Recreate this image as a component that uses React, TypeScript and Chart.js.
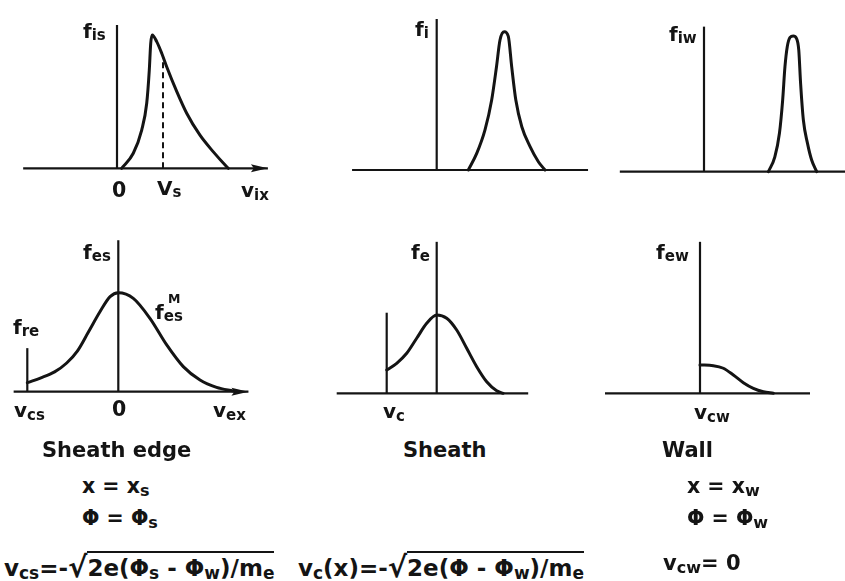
import React, { useEffect, useRef } from 'react';
import { Chart, registerables } from 'chart.js';

Chart.register(...registerables);

const INK = '#141414';

// ---- Data (velocity in panel units, f normalised) ----
// Panel 1: ion distribution at sheath edge, f_is(v_ix)
const fisV = [0.1, 0.354, 0.537, 0.646, 0.702, 0.733, 0.767, 0.863, 0.972, 1.08, 1.3, 1.515, 1.8, 2.09, 2.385, 2.42];
const fisF = [0, 0.113, 0.287, 0.488, 0.737, 0.938, 1.0, 0.95, 0.863, 0.762, 0.575, 0.413, 0.25, 0.125, 0.012, 0];
const vsMark = [1.0, 0.84]; // V_s position, height of dashed line

// Panel 2: ion distribution in the sheath, f_i
const fiV = [0.687, 0.87, 1.05, 1.195, 1.3, 1.376, 1.47, 1.557, 1.63, 1.72, 1.85, 2.03, 2.21, 2.355];
const fiF = [0, 0.12, 0.29, 0.506, 0.747, 0.94, 1.0, 0.966, 0.747, 0.506, 0.313, 0.169, 0.06, 0];

// Panel 3: ion distribution at the wall, f_iw
const fiwV = [1.4, 1.54, 1.64, 1.71, 1.76, 1.81, 1.87, 1.94, 2.01, 2.06, 2.1, 2.16, 2.25, 2.34, 2.45];
const fiwF = [0, 0.11, 0.283, 0.528, 0.774, 0.921, 0.99, 1.0, 0.983, 0.897, 0.651, 0.381, 0.209, 0.086, 0];

// Panel 4: electron distribution at sheath edge, f_es (cut at v_cs = -1)
const fesV = [-1.0, -0.85, -0.7, -0.567, -0.45, -0.33, -0.2, -0.09, 0, 0.165, 0.348, 0.532, 0.714, 0.898, 1.08, 1.264, 1.3];
const fesF = [0.091, 0.14, 0.2, 0.29, 0.41, 0.6, 0.81, 0.96, 1.0, 0.943, 0.741, 0.472, 0.253, 0.118, 0.044, 0.007, 0];
const freCut = [-1.0, 0.44]; // v_cs, height of f_re marker

// Panel 5: electron distribution in the sheath, f_e (cut at v_c = -1)
const feV = [-1.0, -0.8, -0.6, -0.4, -0.2, 0, 0.2, 0.4, 0.6, 0.8, 1.0, 1.2, 1.33];
const feF = [0.235, 0.303, 0.404, 0.556, 0.707, 0.791, 0.758, 0.639, 0.455, 0.269, 0.117, 0.026, 0];
const vcCut = [-1.0, 0.814];

// Panel 6: electron distribution at the wall, f_ew (cut at v_cw = 0)
const fewV = [0, 0.267, 0.467, 0.667, 0.867, 1.067, 1.267, 1.467];
const fewF = [0.286, 0.279, 0.253, 0.185, 0.107, 0.05, 0.016, 0];

// ---- helpers ----
const pts = (xs: number[], ys: number[]) => xs.map((x, i) => ({ x, y: ys[i] }));

const seg = (xs: number[], ys: number[], w = 2.2, extra: any = {}) => ({
  data: pts(xs, ys),
  showLine: true,
  borderColor: INK,
  backgroundColor: INK,
  borderWidth: w,
  pointRadius: 0,
  fill: false,
  ...extra,
});
const curve = (xs: number[], ys: number[]) =>
  seg(xs, ys, 3, { cubicInterpolationMode: 'monotone', borderCapStyle: 'round', borderJoinStyle: 'round' });

const arrowPlugin = {
  id: 'arrowHead',
  afterDatasetsDraw(chart: any) {
    const ctx = chart.ctx;
    chart.data.datasets.forEach((ds: any, i: number) => {
      if (!ds.arrow) return;
      const els = chart.getDatasetMeta(i).data;
      const a = els[els.length - 2];
      const b = els[els.length - 1];
      const ang = Math.atan2(b.y - a.y, b.x - a.x);
      ctx.save();
      ctx.translate(b.x, b.y);
      ctx.rotate(ang);
      ctx.beginPath();
      ctx.moveTo(0, 0);
      ctx.lineTo(-17, -4);
      ctx.lineTo(-14, 0);
      ctx.lineTo(-17, 4);
      ctx.closePath();
      ctx.fillStyle = INK;
      ctx.fill();
      ctx.restore();
    });
  },
};

type PanelProps = { rect: number[]; origin: number[]; datasets: any[] };

function Panel({ rect, origin, datasets }: PanelProps) {
  const ref = useRef<HTMLCanvasElement>(null);
  const [L, T, W, H] = rect;
  useEffect(() => {
    const [X0, U, Y0, Fu] = origin;
    const chart = new Chart(ref.current as HTMLCanvasElement, {
      type: 'scatter',
      data: { datasets },
      options: {
        animation: false,
        responsive: false,
        maintainAspectRatio: false,
        events: [],
        layout: { padding: 0 },
        plugins: { legend: { display: false }, tooltip: { enabled: false } },
        scales: {
          x: { type: 'linear', display: false, min: (L - X0) / U, max: (L + W - X0) / U },
          y: { type: 'linear', display: false, min: (Y0 - (T + H)) / Fu, max: (Y0 - T) / Fu },
        },
      } as any,
      plugins: [arrowPlugin as any],
    });
    return () => chart.destroy();
  }, []);
  return (
    <canvas
      ref={ref}
      width={W}
      height={H}
      style={{ position: 'absolute', left: L, top: T, width: W, height: H }}
    />
  );
}

const FONT = '"DejaVu Sans", sans-serif';

function Txt({ x, y, size = 20, children }: any) {
  return (
    <div
      style={{
        position: 'absolute',
        left: x,
        top: y - 0.846 * size,
        fontSize: size,
        lineHeight: `${size}px`,
        fontFamily: FONT,
        fontWeight: 'bold',
        whiteSpace: 'nowrap',
        color: INK,
      }}
    >
      {children}
    </div>
  );
}

function Sub({ children, size = 15, dy = 2 }: any) {
  return (
    <span style={{ fontSize: size, lineHeight: 1, position: 'relative', top: dy }}>{children}</span>
  );
}

function Root() {
  return <span style={{ fontSize: 29, lineHeight: 1, position: 'relative', top: 1 }}>√</span>;
}

export default function App() {
  const p1 = [
    seg([-2.04, 3.28], [0, 0], 2.2, { arrow: true }),
    seg([0, 0], [0, 1.075], 2.2),
    curve(fisV, fisF),
    seg([vsMark[0], vsMark[0]], [0, vsMark[1]], 2, { borderDash: [6, 4] }),
  ];
  const p2 = [seg([-1.84, 3.29], [0, 0]), seg([0, 0], [0, 1.092]), curve(fiV, fiF)];
  const p3 = [seg([-1.83, 3.2], [0, 0]), seg([0, 0], [0, 1.069]), curve(fiwV, fiwF)];
  const p4 = [
    seg([-1.15, 1.43], [0, 0], 2.2, { arrow: true }),
    seg([0, 0], [0, 1.53]),
    seg([freCut[0], freCut[0]], [0, freCut[1]]),
    curve(fesV, fesF),
  ];
  const p5 = [
    seg([-2.0, 1.83], [0, 0]),
    seg([0, 0], [0, 1.53]),
    seg([vcCut[0], vcCut[0]], [0, vcCut[1]]),
    curve(feV, feF),
  ];
  const p6 = [seg([-1.9, 2.2], [0, 0]), seg([0, 0], [0, 1.53]), curve(fewV, fewF)];

  const over = { borderTop: `2px solid ${INK}`, paddingTop: 2 };
  const FS = 23;
  const SS = 17;

  return (
    <div
      style={{
        position: 'fixed',
        left: 0,
        top: 0,
        width: 845,
        height: 581,
        background: '#ffffff',
        overflow: 'hidden',
      }}
    >
      <Panel rect={[0, 0, 290, 215]} origin={[117, 46, 168.3, 133.3]} datasets={p1} />
      <Panel rect={[290, 0, 300, 215]} origin={[436.7, 46, 170, 138.3]} datasets={p2} />
      <Panel rect={[590, 0, 255, 215]} origin={[704, 46, 171.7, 135.7]} datasets={p3} />
      <Panel rect={[0, 225, 290, 200]} origin={[118.3, 91, 391.7, 99]} datasets={p4} />
      <Panel rect={[300, 225, 270, 200]} origin={[436.7, 50, 393.3, 99]} datasets={p5} />
      <Panel rect={[590, 225, 255, 200]} origin={[700, 50, 393.3, 99]} datasets={p6} />

      {/* panel labels */}
      <Txt x={83} y={38}>f<Sub>is</Sub></Txt>
      <Txt x={112} y={197} size={20.5}>0</Txt>
      <Txt x={157} y={195}>V<Sub>s</Sub></Txt>
      <Txt x={241} y={197}>v<Sub dy={3}>ix</Sub></Txt>

      <Txt x={415} y={36}>f<Sub>i</Sub></Txt>
      <Txt x={669} y={41}>f<Sub>iw</Sub></Txt>

      <Txt x={83} y={259}>f<Sub>es</Sub></Txt>
      <Txt x={155} y={319}>f<Sub>es</Sub></Txt>
      <Txt x={168} y={304} size={12.5}>M</Txt>
      <Txt x={13} y={334}>f<Sub>re</Sub></Txt>
      <Txt x={14} y={417}>v<Sub dy={3}>cs</Sub></Txt>
      <Txt x={112} y={416} size={20.5}>0</Txt>
      <Txt x={213} y={417}>v<Sub dy={3}>ex</Sub></Txt>

      <Txt x={411} y={259}>f<Sub>e</Sub></Txt>
      <Txt x={383} y={418}>v<Sub dy={3}>c</Sub></Txt>

      <Txt x={656} y={259}>f<Sub>ew</Sub></Txt>
      <Txt x={694} y={419}>v<Sub dy={3}>cw</Sub></Txt>

      {/* captions */}
      <Txt x={42} y={458} size={21}>Sheath edge</Txt>
      <Txt x={82} y={493} size={20.5}>x = x<Sub size={16} dy={3}>s</Sub></Txt>
      <Txt x={82} y={525} size={20.5}>Φ = Φ<Sub size={16} dy={3}>s</Sub></Txt>
      <Txt x={4} y={571} size={FS}>
        v<Sub size={SS} dy={3}>cs</Sub>=-<Root /><span style={over}>2e(Φ<Sub size={SS} dy={3}>s</Sub> - Φ<Sub size={SS} dy={3}>w</Sub>)/m<Sub size={SS} dy={3}>e</Sub></span>
      </Txt>

      <Txt x={403} y={458} size={21}>Sheath</Txt>
      <Txt x={298} y={571} size={FS}>
        v<Sub size={SS} dy={3}>c</Sub>(x)=-<Root /><span style={over}>2e(Φ - Φ<Sub size={SS} dy={3}>w</Sub>)/m<Sub size={SS} dy={3}>e</Sub></span>
      </Txt>

      <Txt x={662} y={458} size={21}>Wall</Txt>
      <Txt x={687} y={493} size={20.5}>x = x<Sub size={16} dy={3}>w</Sub></Txt>
      <Txt x={687} y={525} size={20.5}>Φ = Φ<Sub size={16} dy={3}>w</Sub></Txt>
      <Txt x={663} y={571} size={21}>v<Sub size={16} dy={3}>cw</Sub>= 0</Txt>
    </div>
  );
}
